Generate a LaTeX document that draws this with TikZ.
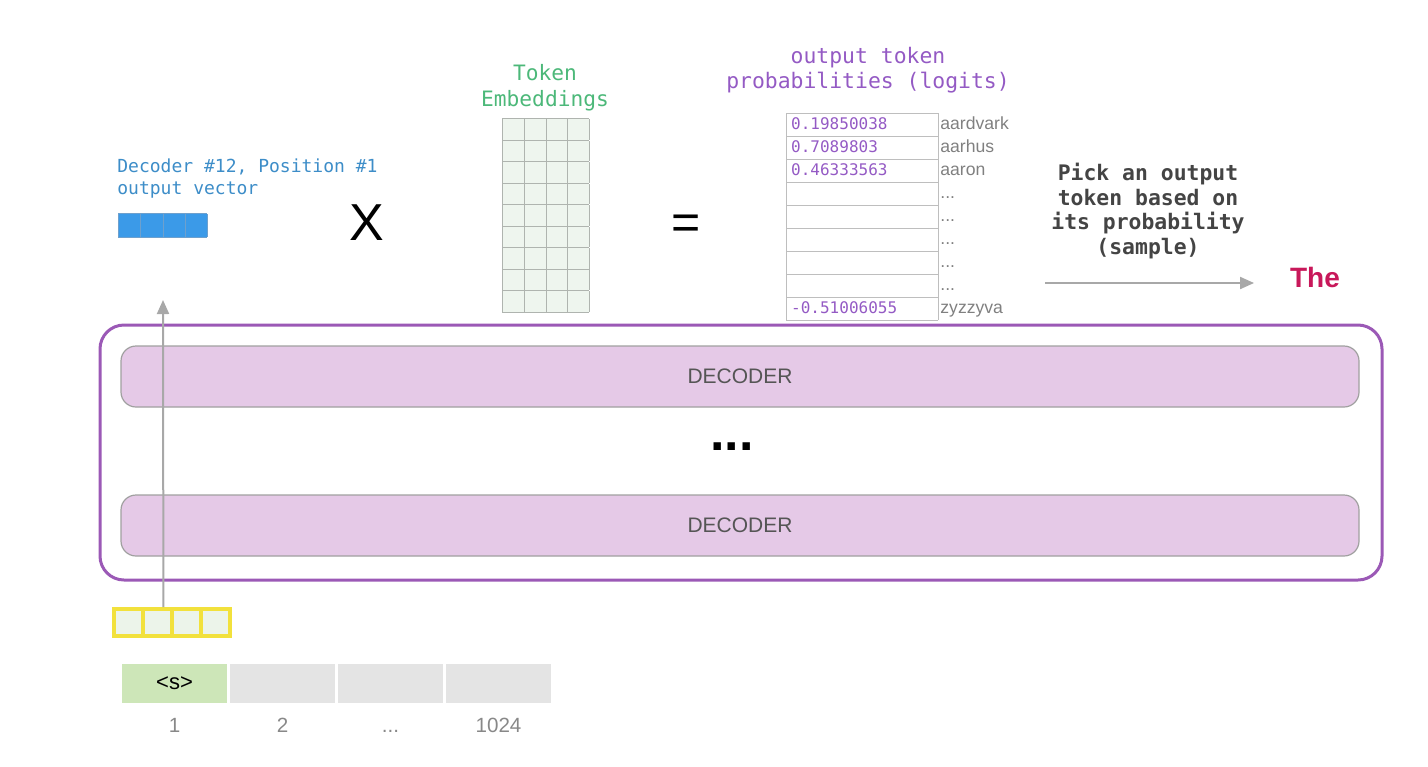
\documentclass[tikz,border=0pt]{standalone}
\usepackage{fontspec}
\setmainfont{Liberation Sans}
\setmonofont{DejaVu Sans Mono}
\usepackage{array}
\usepackage{colortbl}
\usetikzlibrary{arrows.meta}

\definecolor{framepurple}{RGB}{155,89,182}
\definecolor{decoderfill}{RGB}{229,201,231}
\definecolor{decodergray}{RGB}{160,160,160}
\definecolor{decodertext}{RGB}{85,85,85}
\definecolor{vecblue}{RGB}{59,154,232}
\definecolor{vecrule}{RGB}{110,160,205}
\definecolor{labelblue}{RGB}{61,141,200}
\definecolor{embgreen}{RGB}{76,184,121}
\definecolor{embfill}{RGB}{238,245,238}
\definecolor{embgray}{RGB}{175,180,175}
\definecolor{logitpurple}{RGB}{148,90,196}
\definecolor{tablegray}{RGB}{190,190,190}
\definecolor{wordgray}{RGB}{128,128,128}
\definecolor{picktext}{RGB}{68,68,68}
\definecolor{arrowgray}{RGB}{168,168,168}
\definecolor{themagenta}{RGB}{200,24,90}
\definecolor{vecyellow}{RGB}{242,225,60}
\definecolor{cellmint}{RGB}{236,244,234}
\definecolor{tokgreen}{RGB}{205,230,184}
\definecolor{tokgray}{RGB}{228,228,228}
\definecolor{posgray}{RGB}{136,136,136}

\setlength{\tabcolsep}{0pt}

\begin{document}
\begin{tikzpicture}[>={Triangle[length=7pt,width=6pt]},x=0.5pt,y=-0.5pt,node distance=54pt,
  matbox/.style={shape=rectangle,inner sep=0pt,anchor=north west},
  decoder/.style={shape=rectangle,rounded corners=7.5pt,draw=decodergray,fill=decoderfill,line width=0.6pt,
    minimum width=619pt,minimum height=30.5pt,text=decodertext,font=\fontsize{10.5}{12}\selectfont},
  tokcell/.style={shape=rectangle,inner sep=0pt,minimum width=52.5pt,minimum height=19.5pt,font=\fontsize{11}{13}\selectfont},
  poslabel/.style={text=posgray,text height=7.5pt,text depth=0pt,font=\fontsize{10.3}{12}\selectfont}]
  \useasboundingbox (0,0) rectangle (1428,766);

  % decoder stack
  \node (stack) [shape=rectangle,rounded corners=12pt,draw=framepurple,line width=1.5pt,
    minimum width=641pt,minimum height=127.5pt] at (741,452.5) {};
  \node (dec1) [decoder] at (740,376.5) {DECODER};
  \node (dec2) [decoder] at (740,525.5) {DECODER};
  \node (dots) [font=\fontsize{26}{30}\selectfont\bfseries] at (732,447) {...};

  % output vector
  \node (veclabel) [anchor=north west,align=left,inner sep=0pt,text=labelblue,
    font=\ttfamily\fontsize{9}{11}\selectfont] at (117,158) {Decoder \#12, Position \#1\\output vector};
  \node (outvec) [matbox,fill=vecblue] at (118,213) {\arrayrulecolor{vecrule}\fontsize{6}{7}\selectfont
    \begin{tabular}{|p{10.625pt}|p{10.625pt}|p{10.625pt}|p{10.625pt}|}
      \hline
      \rule[-2.2pt]{0pt}{11.2pt} & & & \\
      \hline
    \end{tabular}
  };
  \node (times) [font=\fontsize{26}{30}\selectfont] at (367,223) {X};

  % token embeddings
  \node (embtitle) [align=center,text=embgreen,font=\ttfamily\fontsize{10.6}{13}\selectfont] at (545,88) {Token\\Embeddings};
  \node (embed) [matbox,fill=embfill] at (502,118) {\arrayrulecolor{embgray}\fontsize{6}{7}\selectfont
    \begin{tabular}{|p{10.375pt}|p{10.375pt}|p{10.375pt}|p{10.375pt}|}
      \hline
      \rule[-2.2pt]{0pt}{10.33pt} & & & \\ \hline
      \rule[-2.2pt]{0pt}{10.33pt} & & & \\ \hline
      \rule[-2.2pt]{0pt}{10.33pt} & & & \\ \hline
      \rule[-2.2pt]{0pt}{10.33pt} & & & \\ \hline
      \rule[-2.2pt]{0pt}{10.33pt} & & & \\ \hline
      \rule[-2.2pt]{0pt}{10.33pt} & & & \\ \hline
      \rule[-2.2pt]{0pt}{10.33pt} & & & \\ \hline
      \rule[-2.2pt]{0pt}{10.33pt} & & & \\ \hline
      \rule[-2.2pt]{0pt}{10.33pt} & & & \\ \hline
    \end{tabular}
  };
  \node (equals) [font=\fontsize{25}{30}\selectfont] at (686,227) {=};

  % logits
  \node (logtitle) [align=center,text=logitpurple,font=\ttfamily\fontsize{10.7}{12.5}\selectfont] at (868,70) {output token\\probabilities (logits)};
  \node (logits) [matbox] at (786,113) {\arrayrulecolor{tablegray}\fontsize{8}{9.6}\selectfont
    \begin{tabular}{|>{\hspace*{2pt}\color{logitpurple}\ttfamily}p{75.2pt}|>{\hspace*{1pt}\color{wordgray}\fontsize{8.8}{10}\selectfont}l}
      \cline{1-1}
      \rule[-3.4pt]{0pt}{11.5pt}0.19850038 & aardvark\\ \cline{1-1}
      \rule[-3.4pt]{0pt}{11.5pt}0.7089803 & aarhus\\ \cline{1-1}
      \rule[-3.4pt]{0pt}{11.5pt}0.46333563 & aaron\\ \cline{1-1}
      \rule[-3.4pt]{0pt}{11.5pt} & ...\\ \cline{1-1}
      \rule[-3.4pt]{0pt}{11.5pt} & ...\\ \cline{1-1}
      \rule[-3.4pt]{0pt}{11.5pt} & ...\\ \cline{1-1}
      \rule[-3.4pt]{0pt}{11.5pt} & ...\\ \cline{1-1}
      \rule[-3.4pt]{0pt}{11.5pt} & ...\\ \cline{1-1}
      \rule[-3.4pt]{0pt}{11.5pt}-0.51006055 & zyzzyva\\ \cline{1-1}
    \end{tabular}
  };

  % sampling
  \node (pick) [align=center,text=picktext,font=\ttfamily\bfseries\fontsize{10.7}{12.3}\selectfont] at (1148,211) {Pick an output\\token based on\\its probability\\(sample)};
  \node (the) [text=themagenta,font=\bfseries\fontsize{14}{16}\selectfont] at (1315,277) {The};
  \coordinate (pickfrom) at (1045,283);
  \path[->,arrowgray,line width=1pt,shorten >=14.5pt] (pickfrom) edge (pickfrom -| the.west);

  % input
  \node (inputvec) [matbox,fill=cellmint] at (112,607) {\setlength{\arrayrulewidth}{2pt}\arrayrulecolor{vecyellow}\fontsize{6}{7}\selectfont
    \begin{tabular}{|p{12.5pt}|p{12.5pt}|p{12.5pt}|p{12.5pt}|}
      \hline
      \rule[-2.5pt]{0pt}{11.5pt} & & & \\
      \hline
    \end{tabular}
  };
  \coordinate (vecout) at (163,300);
  \path[->,arrowgray,line width=1pt] ([xshift=-4.5pt]inputvec.north) edge (vecout);

  % positions
  \node (pos1) [tokcell,fill=tokgreen] at (174.5,683.5) {<s>};
  \node (pos2) [tokcell,fill=tokgray] [right of = pos1] {};
  \node (pos3) [tokcell,fill=tokgray] [right of = pos2] {};
  \node (pos4) [tokcell,fill=tokgray] [right of = pos3] {};
  \node (num1) [poslabel] [below of = pos1,node distance=20.5pt] {1};
  \node (num2) [poslabel] [below of = pos2,node distance=20.5pt] {2};
  \node (num3) [poslabel] [below of = pos3,node distance=20.5pt] {...};
  \node (num4) [poslabel] [below of = pos4,node distance=20.5pt] {1024};
\end{tikzpicture}
\end{document}
